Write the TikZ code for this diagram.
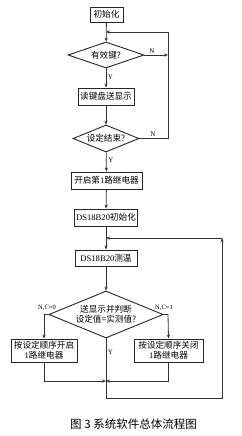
\documentclass[tikz,border=0pt]{standalone}
\usepackage{fontspec}
\setmainfont{Liberation Serif}
\newfontfamily\cjk{Noto Sans CJK SC}
\usetikzlibrary{shapes.geometric,arrows.meta}
\tikzset{
  boxnode/.style={draw=black!85,line width=0.9pt,inner sep=0pt,font=\fontsize{8.6}{10}\selectfont,align=center},
  decision/.style={draw=black!85,line width=0.9pt,diamond,inner sep=0pt,shape aspect=3,font=\fontsize{8.6}{10}\selectfont,align=center},
  conn/.style={draw=black!80,line width=0.8pt},
  arr/.style={conn,-{Stealth[length=4pt,width=3.2pt]}},
  lbl/.style={font=\fontsize{7}{8}\selectfont,inner sep=0pt}
}
\begin{document}
\begin{tikzpicture}[x=1pt,y=-1pt]
\useasboundingbox (0,0) rectangle (241,436);
\node[boxnode,minimum width=33pt,minimum height=15pt] (init) at (106.5,14.5) {\cjk 初始化};
\node[decision,minimum width=76pt,minimum height=26pt] (d1) at (106,55) {\cjk 有效键?};
\node[boxnode,minimum width=56pt,minimum height=17pt] (b2) at (106,96.5) {\cjk 读键盘送显示};
\node[decision,minimum width=66pt,minimum height=27pt] (d2) at (106,138.5) {\cjk 设定结束?};
\node[boxnode,minimum width=71pt,minimum height=17pt] (b3) at (106.5,180.5) {{\cjk 开启第}1{\cjk 路继电器}};
\node[boxnode,minimum width=63pt,minimum height=17pt] (b4) at (106,217.5) {DS18B20{\cjk 初始化}};
\node[boxnode,minimum width=62pt,minimum height=16pt] (b5) at (106,258) {DS18B20{\cjk 测温}};
\node[decision,minimum width=94pt,minimum height=47pt] (d3) at (106,314.5) {{\cjk 送显示并判断}\\{\cjk 设定值=实测值?}};
\node[boxnode,minimum width=66pt,minimum height=23pt] (b6) at (44,350.5) {{\cjk 按设定顺序开启}\\1{\cjk 路继电器}};
\node[boxnode,minimum width=69pt,minimum height=23pt] (b7) at (168.5,350.5) {{\cjk 按设定顺序关闭}\\1{\cjk 路继电器}};
\node[font=\fontsize{11.5}{12}\selectfont\cjk,inner sep=0pt] (cap) at (133.5,424) {图 3\ 系统软件总体流程图};
% coordinates
\coordinate (j1) at (106,32);
\coordinate (r1) at (168,32);
\coordinate (r2) at (168,55);
\coordinate (r3) at (168,138.5);
\coordinate (j2) at (106,238);
\coordinate (r4) at (222,238);
\coordinate (j3) at (106,381);
\coordinate (bl) at (106,398);
\coordinate (br) at (222,398);
\coordinate (l1) at (44,314.5);
\coordinate (l2) at (168,314.5);
% connectors
\draw[arr] (init) -- (d1);
\draw[arr] (d1) -- (b2);
\draw[arr] (b2) -- (d2);
\draw[arr] (d2) -- (b3);
\draw[arr] (b3) -- (b4);
\draw[arr] (b4) -- (b5);
\draw[arr] (b5) -- (d3);
\draw[arr] (d1.east) -- (r2);
\draw[conn] (d2.east) -- (r3) -- (r1);
\draw[arr] (r1) -- (j1);
\draw[arr] (d3.west) -- (l1) -- (b6.north);
\draw[arr] (d3.east) -- (l2) -- (b7.north);
\draw[arr] (b6.south) |- (j3);
\draw[arr] (b7.south) |- (j3);
\draw[arr] (d3.south) -- (bl) -- (br) -- (r4);
\draw[arr] (r4) -- (j2);
% labels
\node[lbl] (n1) at (152,51) {N};
\node[lbl] (y1) at (110.5,77) {Y};
\node[lbl] (n2) at (153,134) {N};
\node[lbl] (y2) at (111,160) {Y};
\node[lbl,font=\fontsize{6.5}{7}\selectfont] (nc0) at (47,308) {N,C=0};
\node[lbl,font=\fontsize{6.5}{7}\selectfont] (nc1) at (164,308) {N,C=1};
\node[lbl] (y3) at (110.5,352) {Y};
\end{tikzpicture}
\end{document}
